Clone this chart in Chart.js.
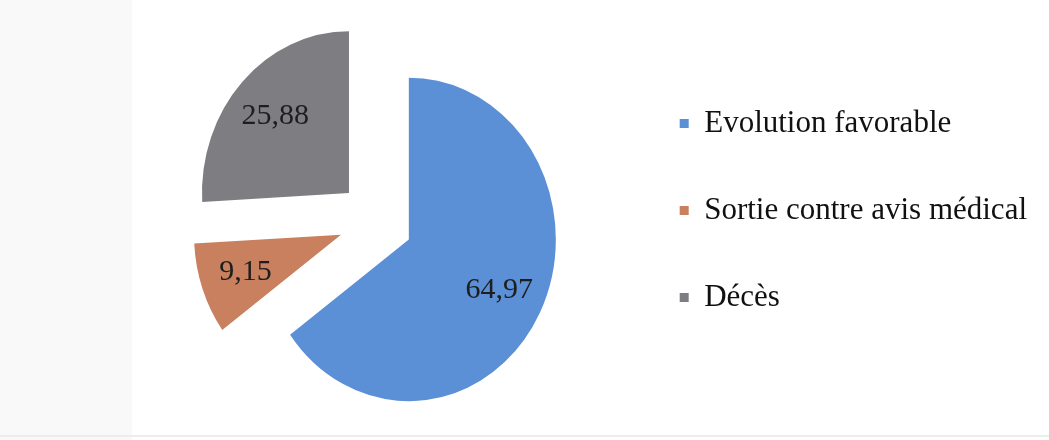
<!DOCTYPE html>
<html>
<head>
<meta charset="utf-8">
<script src="https://cdn.jsdelivr.net/npm/chart.js@4.4.1/dist/chart.umd.min.js"></script>
<style>
    html, body { margin: 0; padding: 0; background: #fff; }
    #wrap { position: relative; width: 1049px; height: 440px; overflow: hidden; }
    #leftBand { position: absolute; left: 0; top: 0; width: 132px; height: 440px; background: #f9f9f9; }
    #bottomLine { position: absolute; left: 0; top: 435px; width: 1049px; height: 2px; background: #ececec; }
    #outcomeChart { position: absolute; left: 0; top: 0; }
</style>
</head>
<body>
<div id="wrap">
    <div id="leftBand"></div>
    <div id="bottomLine"></div>
    <canvas id="outcomeChart" width="1049" height="440"></canvas>
</div>
<script>
const categories = ['Evolution favorable', 'Sortie contre avis médical', 'Décès'];
const percentages = [64.97, 9.15, 25.88];
const sliceColors = ['#5b8fd6', '#c8805e', '#7e7e82'];

const GAP = 37;          // distance each slice is pulled out
const STRETCH_Y = 1.1;   // the scanned pie is slightly taller than wide
const LABEL_POS = 0.69;  // label distance from apex, fraction of radius

// pull every slice out along its bisector
const explodePlugin = {
    id: 'explode',
    afterDatasetUpdate(chart, args) {
        args.meta.data.forEach(arc => {
            const mid = (arc.startAngle + arc.endAngle) / 2;
            arc.x += Math.cos(mid) * GAP;
            arc.y += Math.sin(mid) * GAP;
        });
    },
    beforeDatasetsDraw(chart) {
        const { ctx, chartArea } = chart;
        const cx = (chartArea.left + chartArea.right) / 2;
        const cy = (chartArea.top + chartArea.bottom) / 2;
        ctx.save();
        ctx.translate(cx, cy);
        ctx.scale(1, STRETCH_Y);
        ctx.translate(-cx, -cy);
    },
    afterDatasetsDraw(chart) {
        chart.ctx.restore();
    }
};

// values written inside the slices
const sliceLabels = {
    id: 'sliceLabels',
    afterDraw(chart) {
        const { ctx, chartArea } = chart;
        const cy = (chartArea.top + chartArea.bottom) / 2;
        const meta = chart.getDatasetMeta(0);
        ctx.save();
        ctx.font = '30px "Liberation Serif", "Times New Roman", serif';
        ctx.fillStyle = '#1e1e1e';
        ctx.textAlign = 'center';
        ctx.textBaseline = 'middle';
        meta.data.forEach((arc, i) => {
            const mid = (arc.startAngle + arc.endAngle) / 2;
            const r = arc.outerRadius * LABEL_POS;
            const x = arc.x + Math.cos(mid) * r;
            const y = cy + (arc.y + Math.sin(mid) * r - cy) * STRETCH_Y;
            ctx.fillText(percentages[i].toFixed(2).replace('.', ','), x, y);
        });
        ctx.restore();
    }
};

new Chart(document.getElementById('outcomeChart'), {
    type: 'pie',
    data: {
        labels: categories,
        datasets: [{
            data: percentages,
            backgroundColor: sliceColors,
            borderWidth: 0,
            radius: 147
        }]
    },
    options: {
        responsive: false,
        animation: false,
        events: [],
        layout: { padding: { left: 128, right: 12, top: 52, bottom: 50 } },
        plugins: {
            tooltip: { enabled: false },
            legend: {
                position: 'right',
                align: 'start',
                labels: {
                    boxWidth: 9,
                    boxHeight: 9,
                    padding: 56,
                    color: '#111',
                    font: { family: '"Liberation Serif", "Times New Roman", serif', size: 31 }
                }
            }
        }
    },
    plugins: [explodePlugin, sliceLabels]
});
</script>
</body>
</html>
